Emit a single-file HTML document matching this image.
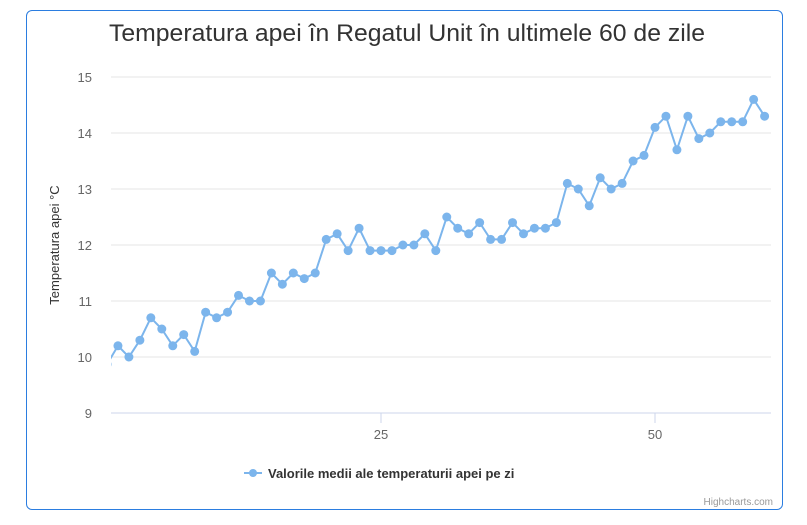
<!DOCTYPE html>
<html><head><meta charset="utf-8"><style>
body{margin:0;background:#fff;width:807px;height:525px;overflow:hidden;font-family:"Liberation Sans",sans-serif}
#frame{position:absolute;left:26px;top:10px;width:757px;height:500px;border:1px solid #2b7de0;border-radius:6px;box-sizing:border-box}
</style></head><body>
<div id="frame"></div>
<svg id="chart" width="807" height="525" style="position:absolute;left:0;top:0">
<text x="407" y="41" text-anchor="middle" font-size="24" textLength="596" lengthAdjust="spacingAndGlyphs" fill="#333">Temperatura apei în Regatul Unit în ultimele 60 de zile</text>
<text transform="translate(59,245) rotate(-90)" text-anchor="middle" font-size="13" fill="#333">Temperatura apei °C</text>
<g id="grid"></g><g id="series"></g>
<g>
<line x1="244" y1="473" x2="262" y2="473" stroke="#7cb5ec" stroke-width="2"/>
<circle cx="253" cy="473" r="4" fill="#7cb5ec"/>
<text x="268" y="478" font-size="13" font-weight="bold" fill="#333">Valorile medii ale temperaturii apei pe zi</text>
</g>
<text x="773" y="505" text-anchor="end" font-size="10" fill="#999">Highcharts.com</text>
</svg>
<script>
const yTicks=[9,10,11,12,13,14,15];
const xTicks=[25,50];
const days=[0,1,2,3,4,5,6,7,8,9,10,11,12,13,14,15,16,17,18,19,20,21,22,23,24,25,26,27,28,29,30,31,32,33,34,35,36,37,38,39,40,41,42,43,44,45,46,47,48,49,50,51,52,53,54,55,56,57,58,59,60];
const temps=[9.87,10.2,10.0,10.3,10.7,10.5,10.2,10.4,10.1,10.8,10.7,10.8,11.1,11.0,11.0,11.5,11.3,11.5,11.4,11.5,12.1,12.2,11.9,12.3,11.9,11.9,11.9,12.0,12.0,12.2,11.9,12.5,12.3,12.2,12.4,12.1,12.1,12.4,12.2,12.3,12.3,12.4,13.1,13.0,12.7,13.2,13.0,13.1,13.5,13.6,14.1,14.3,13.7,14.3,13.9,14.0,14.2,14.2,14.2,14.6,14.3];
const L=111,R=771;
const xs=v=>107+v*10.96;
const ys=v=>413-(v-9)*56;
const ns="http://www.w3.org/2000/svg";
const svg=document.getElementById('chart');
const grid=document.getElementById('grid'),ser=document.getElementById('series');
function mk(t,a,p){const e=document.createElementNS(ns,t);for(const k in a)e.setAttribute(k,a[k]);p.appendChild(e);return e;}
const defs=mk('defs',{},svg);const cp=mk('clipPath',{id:'cp'},defs);mk('rect',{x:L,y:60,width:R-L,height:360},cp);
yTicks.forEach(v=>{
 const l=mk('line',{x1:L,x2:R,y1:ys(v),y2:ys(v),stroke:v===9?'#ccd6eb':'#e6e6e6','stroke-width':1},grid);
 
 
 const t=mk('text',{x:92,y:ys(v)+5,'text-anchor':'end','font-size':13,fill:'#666'},grid);t.textContent=v;
 
 
});
xTicks.forEach(v=>{
 const l=mk('line',{x1:xs(v),x2:xs(v),y1:413,y2:423,stroke:'#ccd6eb'},grid);
 
 
 const t=mk('text',{x:xs(v),y:439,'text-anchor':'middle','font-size':13,fill:'#666'},grid);t.textContent=v;
 
 
});
const g=mk('g',{'clip-path':'url(#cp)'},ser);
const pl=mk('polyline',{points:days.map((d,i)=>xs(d)+','+ys(temps[i])).join(' '),fill:'none',stroke:'#7cb5ec','stroke-width':2},g);


days.forEach((d,i)=>{
 const c=mk('circle',{cx:xs(d),cy:ys(temps[i]),r:4.5,fill:'#7cb5ec'},g);
 
 
});
</script>
</body></html>
